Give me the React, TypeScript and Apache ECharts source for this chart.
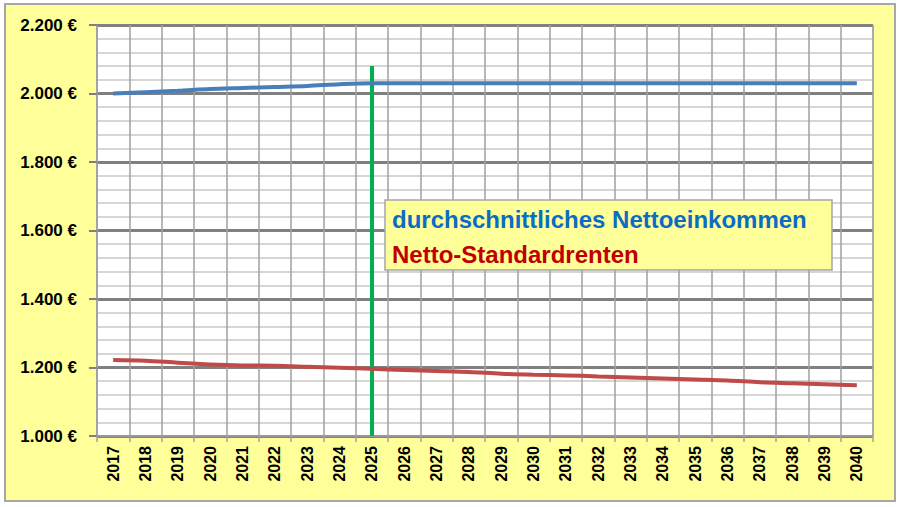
import React, { useEffect, useRef } from "react";
import * as echarts from "echarts";

const years = ["2017","2018","2019","2020","2021","2022","2023","2024","2025","2026","2027","2028","2029","2030","2031","2032","2033","2034","2035","2036","2037","2038","2039","2040"];
const nettoeinkommen = [2000,2004,2008,2013,2016,2019,2022,2027,2030,2030,2030,2030,2030,2030,2030,2030,2030,2030,2030,2030,2030,2030,2030,2030];
const standardrenten = [1222,1220,1214,1209,1206,1205,1202,1199,1196,1193,1190,1187,1182,1179,1177,1174,1171,1168,1165,1162,1157,1154,1151,1148];
const markerYear = "2025";
const markerTop = 2080;
const markerBottom = 1000;
const legendNames = ["durchschnittliches Nettoeinkommen", "Netto-Standardrenten"];

const fmt = (v: number) => {
  const s = String(v);
  return (s.length > 3 ? s.slice(0, s.length - 3) + "." + s.slice(-3) : s) + " €";
};

export default function App() {
  const ref = useRef<HTMLDivElement>(null);
  useEffect(() => {
    if (!ref.current) return;
    const chart = echarts.init(ref.current, null, { renderer: "svg" });
    const font = "Liberation Sans";
    chart.setOption({
      animation: false,
      backgroundColor: "#ffffff",
      grid: {
        left: 97, top: 25, right: 27, bottom: 71,
        show: true, backgroundColor: "#ffffff", borderColor: "#a0a0a0", borderWidth: 1,
      },
      graphic: [
        {
          type: "rect", z: -10, silent: true,
          shape: { x: 5, y: 4, width: 890, height: 497 },
          style: { fill: "#ffff99", stroke: "#a6a6a6", lineWidth: 2 },
        },
        {
          type: "rect", z: 100, silent: true,
          shape: { x: 385, y: 200, width: 447, height: 70 },
          style: { fill: "#ffff99", stroke: "#a6a6a6", lineWidth: 1.5 },
        },
        {
          type: "text", z: 101, x: 392, y: 219, silent: true,
          style: { text: legendNames[0], fill: "#0a6cc4", font: `bold 24px "${font}"`, textVerticalAlign: "middle" },
        },
        {
          type: "text", z: 101, x: 392, y: 254, silent: true,
          style: { text: legendNames[1], fill: "#c00000", font: `bold 24px "${font}"`, textVerticalAlign: "middle" },
        },
      ],
      xAxis: {
        type: "category", data: years, boundaryGap: true,
        axisLine: { lineStyle: { color: "#a0a0a0", width: 1.5 } },
        axisTick: { show: true, length: 6, lineStyle: { color: "#a0a0a0", width: 1.5 } },
        splitLine: { show: true, lineStyle: { color: "#a0a0a0", width: 1.5 } },
        axisLabel: { rotate: 90, color: "#000", fontWeight: "bold", fontSize: 16, fontFamily: font, margin: 10, interval: 0 },
      },
      yAxis: {
        type: "value", min: 1000, max: 2200, interval: 200,
        axisLine: { show: true, lineStyle: { color: "#a0a0a0", width: 1.5 } },
        axisTick: { show: true, length: 8, lineStyle: { color: "#808080", width: 2 } },
        splitLine: { show: true, lineStyle: { color: "#808080", width: 3 } },
        minorTick: { show: false, splitNumber: 5 },
        minorSplitLine: { show: true, lineStyle: { color: "#c8c8c8", width: 1.5 } },
        axisLabel: { color: "#000", fontWeight: "bold", fontSize: 17, fontFamily: font, margin: 20, formatter: fmt },
      },
      series: [
        {
          name: legendNames[0], type: "line", data: nettoeinkommen, smooth: 0.3, symbol: "none",
          lineStyle: { color: "#4a7ebb", width: 4 }, z: 5,
          markLine: {
            silent: true, symbol: "none", label: { show: false },
            lineStyle: { color: "#00b050", width: 4, type: "solid" },
            data: [[{ coord: [markerYear, markerTop] }, { coord: [markerYear, markerBottom] }]],
          },
        },
        {
          name: legendNames[1], type: "line", data: standardrenten, smooth: 0.3, symbol: "none",
          lineStyle: { color: "#be4b48", width: 4 }, z: 5,
        },
      ],
    });
    return () => chart.dispose();
  }, []);
  return <div ref={ref} style={{ position: "fixed", left: 0, top: 0, width: 900, height: 507 }} />;
}
